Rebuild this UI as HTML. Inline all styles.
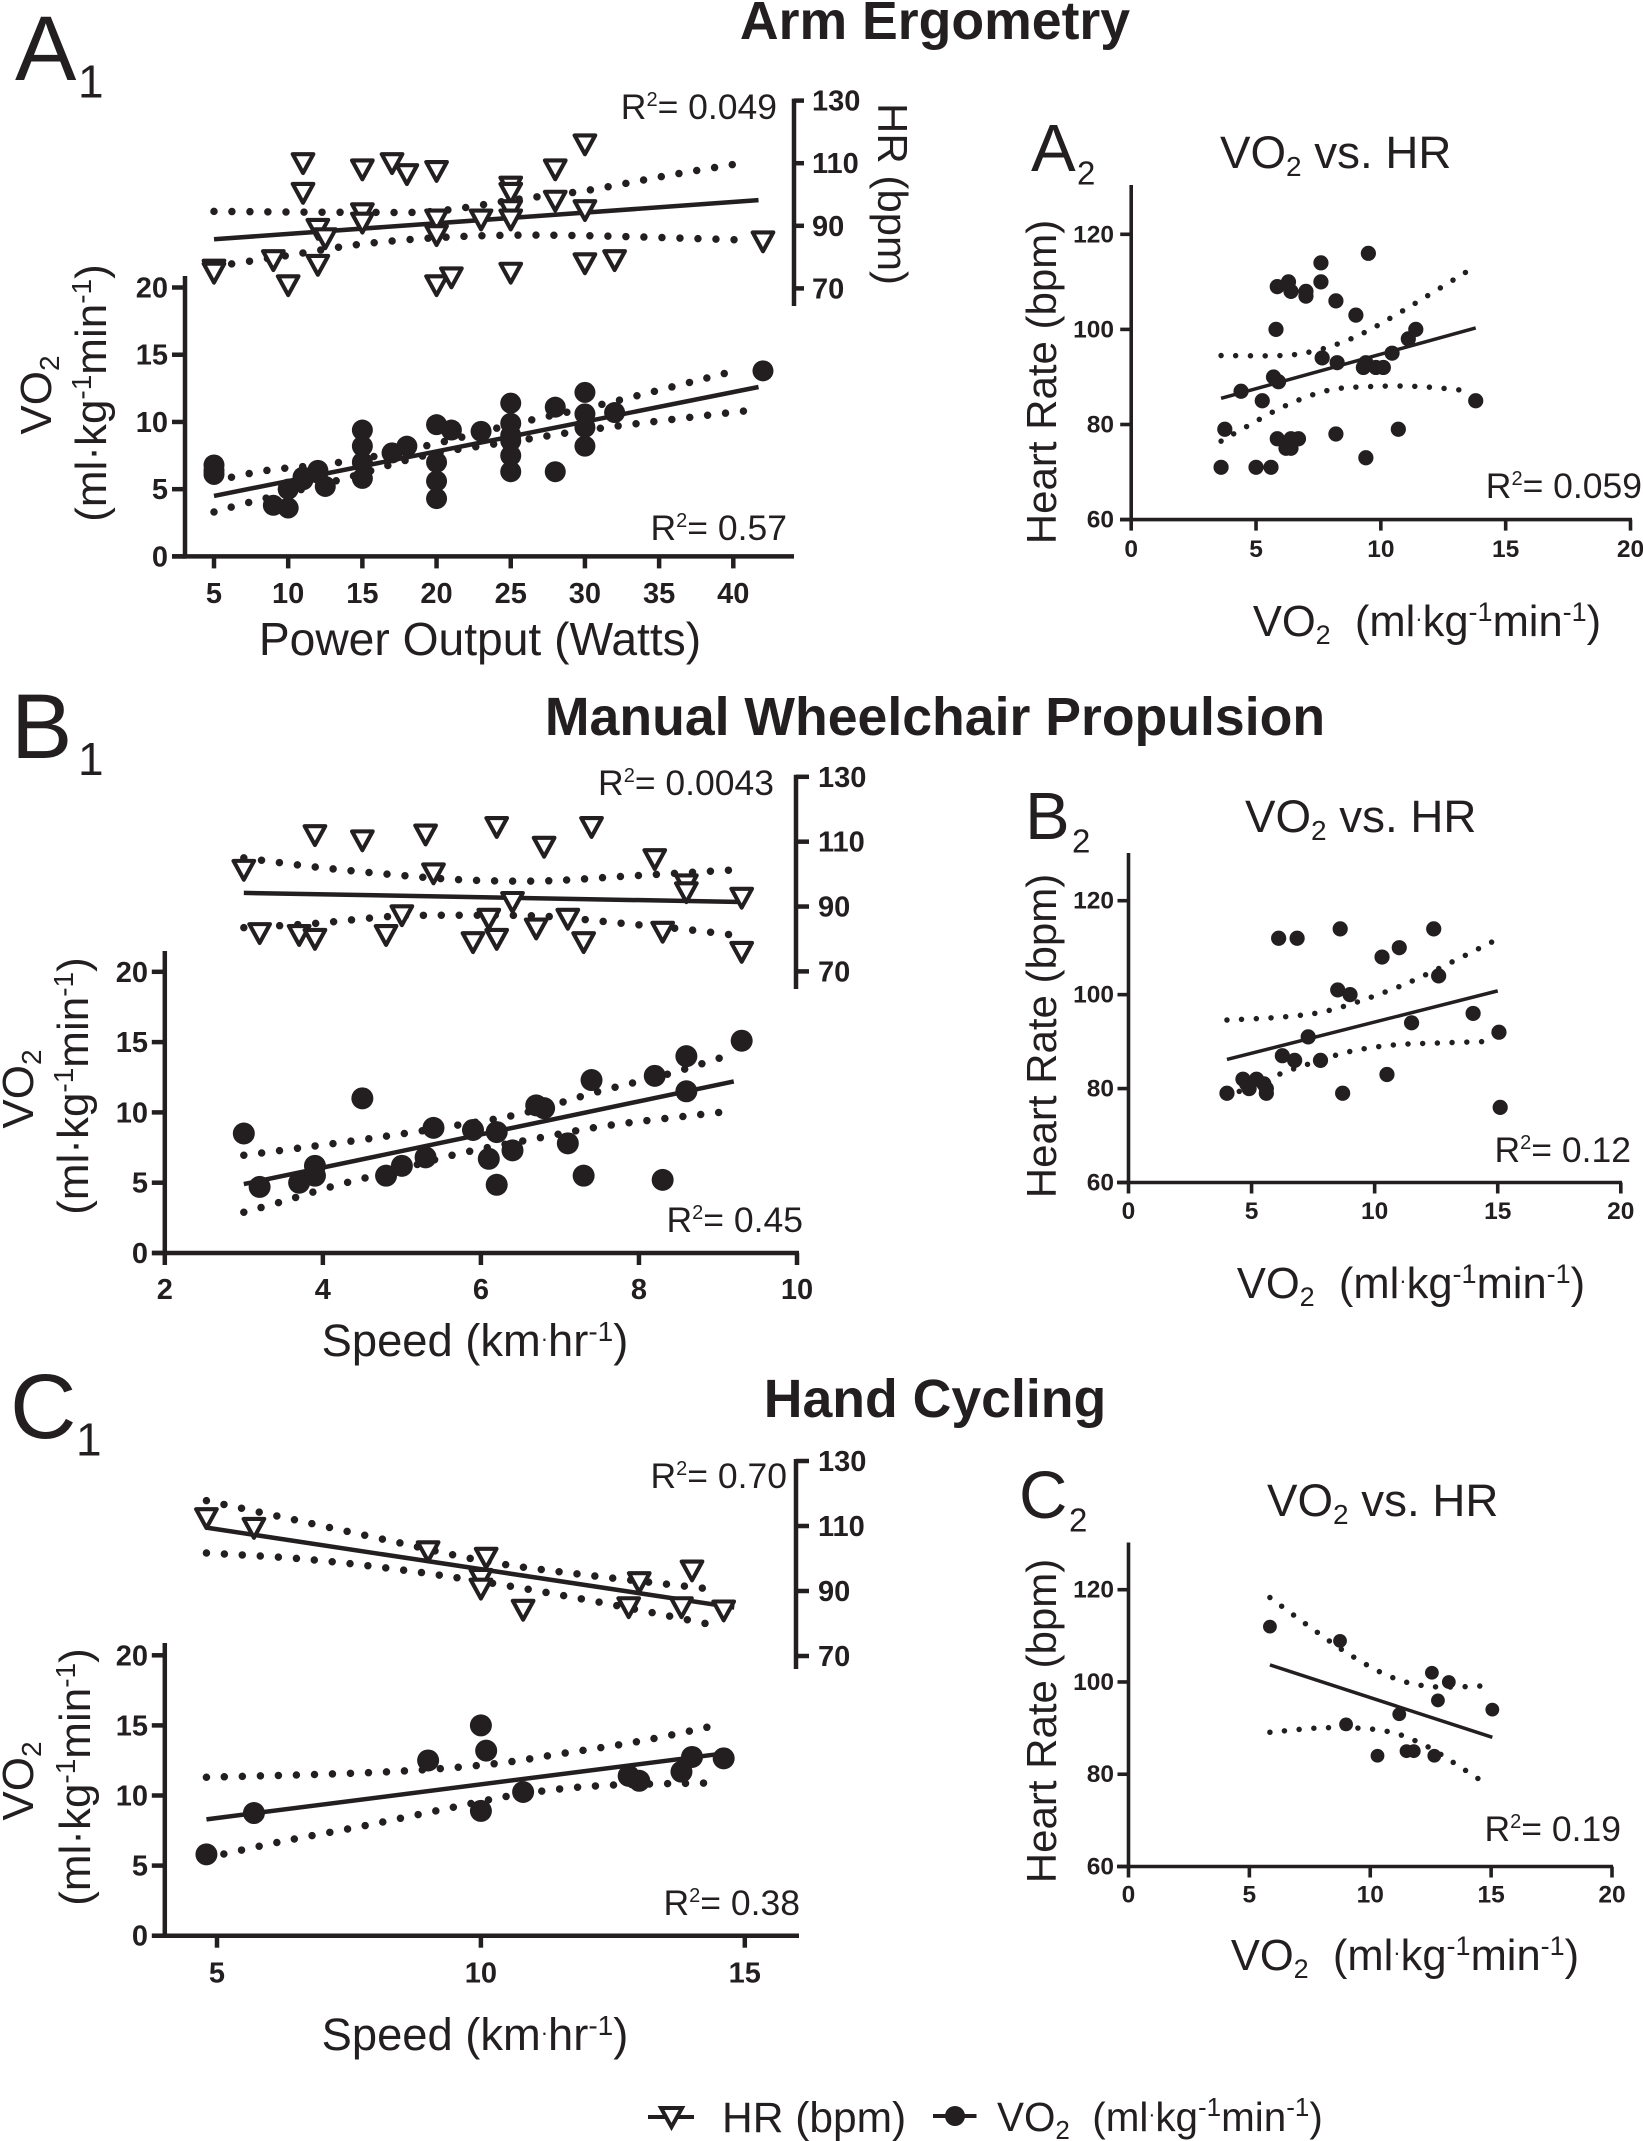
<!DOCTYPE html>
<html lang="en">
<head>
<meta charset="utf-8">
<title>VO2 and heart rate scatter panels</title>
<style>
html,body{margin:0;padding:0;background:#fff;}
svg{display:block;}
text{font-family:"Liberation Sans",Arial,sans-serif;fill:#231f20;}
.heading{font-weight:700;font-size:53.6px;text-anchor:middle;}
.plabel{font-size:92px;}
.plabel2{font-size:67px;}
.psub{font-size:46px;}
.psub2{font-size:33px;}
.ptitle{font-size:45.7px;}
.axt{font-size:44px;text-anchor:middle;}
.axs{font-size:45.3px;text-anchor:middle;}
.axv{font-size:43.5px;text-anchor:middle;}
.axt2{font-size:42px;text-anchor:middle;}
.rs{font-size:35.5px;text-anchor:end;}
.tick1{font-weight:700;font-size:29px;}
.tick2{font-weight:700;font-size:24.5px;}
</style>
</head>
<body>
<svg id="figure" xmlns="http://www.w3.org/2000/svg" width="1643" height="2141" viewBox="0 0 1643 2141">
<rect width="1643" height="2141" fill="#fff"/>

<text class="heading" x="935" y="39">Arm Ergometry</text>
<text class="heading" x="935" y="735">Manual Wheelchair Propulsion</text>
<text class="heading" x="935" y="1417">Hand Cycling</text>

<text class="plabel" x="15" y="80">A</text>
<text class="psub" x="78" y="97.6">1</text>
<text class="plabel" x="11" y="758">B</text>
<text class="psub" x="78" y="775">1</text>
<text class="plabel" x="10" y="1438">C</text>
<text class="psub" x="76" y="1455.6">1</text>
<text class="plabel2" x="1031" y="171">A</text>
<text class="psub2" x="1077" y="184.6">2</text>
<text class="plabel2" x="1025" y="839">B</text>
<text class="psub2" x="1072" y="852.5">2</text>
<text class="plabel2" x="1019" y="1518">C</text>
<text class="psub2" x="1069" y="1531.5">2</text>

<text class="ptitle" x="1220" y="168">VO<tspan dy="8" font-size="28">2</tspan><tspan dy="-8"> vs. HR</tspan></text>
<text class="ptitle" x="1245" y="832">VO<tspan dy="8" font-size="28">2</tspan><tspan dy="-8"> vs. HR</tspan></text>
<text class="ptitle" x="1267" y="1516">VO<tspan dy="8" font-size="28">2</tspan><tspan dy="-8"> vs. HR</tspan></text>

<!-- A1 labels -->
<text class="axt" transform="translate(51,395) rotate(-90)">VO<tspan dy="8" font-size="28">2</tspan></text>
<text class="axt" transform="translate(106,393) rotate(-90)">(ml·kg<tspan dy="-15" font-size="28">-1</tspan><tspan dy="15">min</tspan><tspan dy="-15" font-size="28">-1</tspan><tspan dy="15">)</tspan></text>
<text transform="translate(878,194) rotate(90)" font-size="42" text-anchor="middle">HR (bpm)</text>
<text x="480" y="655" font-size="46.2" text-anchor="middle">Power Output (Watts)</text>
<text class="rs" x="777" y="119">R<tspan dy="-13" font-size="20">2</tspan><tspan dy="13">= 0.049</tspan></text>
<text class="rs" x="787" y="540">R<tspan dy="-13" font-size="20">2</tspan><tspan dy="13">= 0.57</tspan></text>

<!-- B1 labels -->
<text class="axt" transform="translate(33,1089) rotate(-90)">VO<tspan dy="8" font-size="28">2</tspan></text>
<text class="axt" transform="translate(88,1086) rotate(-90)">(ml·kg<tspan dy="-15" font-size="28">-1</tspan><tspan dy="15">min</tspan><tspan dy="-15" font-size="28">-1</tspan><tspan dy="15">)</tspan></text>
<text class="axs" x="475" y="1356">Speed (km<tspan font-size="22" dy="-10">·</tspan><tspan dy="10">hr</tspan><tspan dy="-15" font-size="28">-1</tspan><tspan dy="15">)</tspan></text>
<text class="rs" x="774" y="795">R<tspan dy="-13" font-size="20">2</tspan><tspan dy="13">= 0.0043</tspan></text>
<text class="rs" x="803" y="1232">R<tspan dy="-13" font-size="20">2</tspan><tspan dy="13">= 0.45</tspan></text>

<!-- C1 labels -->
<text class="axt" transform="translate(33,1781) rotate(-90)">VO<tspan dy="8" font-size="28">2</tspan></text>
<text class="axt" transform="translate(90,1777) rotate(-90)">(ml·kg<tspan dy="-15" font-size="28">-1</tspan><tspan dy="15">min</tspan><tspan dy="-15" font-size="28">-1</tspan><tspan dy="15">)</tspan></text>
<text class="axs" x="475" y="2050">Speed (km<tspan font-size="22" dy="-10">·</tspan><tspan dy="10">hr</tspan><tspan dy="-15" font-size="28">-1</tspan><tspan dy="15">)</tspan></text>
<text class="rs" x="787" y="1488">R<tspan dy="-13" font-size="20">2</tspan><tspan dy="13">= 0.70</tspan></text>
<text class="rs" x="800" y="1915">R<tspan dy="-13" font-size="20">2</tspan><tspan dy="13">= 0.38</tspan></text>

<!-- A2/B2/C2 labels -->
<text class="axt2" transform="translate(1056,382) rotate(-90)">Heart Rate (bpm)</text>
<text class="axt2" transform="translate(1056,1036) rotate(-90)">Heart Rate (bpm)</text>
<text class="axt2" transform="translate(1056,1721) rotate(-90)">Heart Rate (bpm)</text>
<text class="axv" x="1427" y="636">VO<tspan dy="8" font-size="27">2</tspan><tspan dy="-8" xml:space="preserve">  (ml</tspan><tspan font-size="22" dy="-10">·</tspan><tspan dy="10">kg</tspan><tspan dy="-15" font-size="27">-1</tspan><tspan dy="15">min</tspan><tspan dy="-15" font-size="27">-1</tspan><tspan dy="15">)</tspan></text>
<text class="axv" x="1411" y="1298">VO<tspan dy="8" font-size="27">2</tspan><tspan dy="-8" xml:space="preserve">  (ml</tspan><tspan font-size="22" dy="-10">·</tspan><tspan dy="10">kg</tspan><tspan dy="-15" font-size="27">-1</tspan><tspan dy="15">min</tspan><tspan dy="-15" font-size="27">-1</tspan><tspan dy="15">)</tspan></text>
<text class="axv" x="1405" y="1970">VO<tspan dy="8" font-size="27">2</tspan><tspan dy="-8" xml:space="preserve">  (ml</tspan><tspan font-size="22" dy="-10">·</tspan><tspan dy="10">kg</tspan><tspan dy="-15" font-size="27">-1</tspan><tspan dy="15">min</tspan><tspan dy="-15" font-size="27">-1</tspan><tspan dy="15">)</tspan></text>
<text class="rs" x="1642" y="498">R<tspan dy="-13" font-size="20">2</tspan><tspan dy="13">= 0.059</tspan></text>
<text class="rs" x="1631" y="1162">R<tspan dy="-13" font-size="20">2</tspan><tspan dy="13">= 0.12</tspan></text>
<text class="rs" x="1621" y="1841">R<tspan dy="-13" font-size="20">2</tspan><tspan dy="13">= 0.19</tspan></text>

<!-- Legend -->
<g>
  <g>
    <line x1="648" y1="2117" x2="694" y2="2117" stroke="#231f20" stroke-width="4"/>
    <path d="M661,2108 L682,2108 L671.5,2127 Z" fill="#fff" stroke="#231f20" stroke-width="4"/>
    <text x="722" y="2132" font-size="42.5">HR (bpm)</text>
  </g>
  <g>
    <line x1="933" y1="2116" x2="976.5" y2="2116" stroke="#231f20" stroke-width="4"/>
    <circle cx="955" cy="2116" r="10" fill="#231f20"/>
    <text x="997" y="2131" font-size="40.4">VO<tspan dy="8" font-size="26">2</tspan><tspan dy="-8" xml:space="preserve">  (ml</tspan><tspan font-size="21" dy="-10">·</tspan><tspan dy="10">kg</tspan><tspan dy="-15" font-size="26">-1</tspan><tspan dy="15">min</tspan><tspan dy="-15" font-size="26">-1</tspan><tspan dy="15">)</tspan></text>
  </g>
</g>
<g id="plots"></g>
</svg>

<script>
/* ---------- Tick labels ---------- */
const hrTicks = [70, 90, 110, 130];
const vo2Ticks = [0, 5, 10, 15, 20];
const heartRateTicks = [60, 80, 100, 120];
const vo2XTicks = [0, 5, 10, 15, 20];
const a1XTicks = [5, 10, 15, 20, 25, 30, 35, 40];
const b1XTicks = [2, 4, 6, 8, 10];
const c1XTicks = [5, 10, 15];

/* ---------- A1: arm ergometry ---------- */
const a1Vo2Power = [5,5,5,9,10,10,11,11,12,12,12.5,15,15,15,15,17,18,20,20,20,20,21,23,25,25,25,25,25,25,28,28,30,30,30,30,32,42];
const a1Vo2 = [6.8,6.4,6.1,3.8,3.6,5.0,5.7,5.9,6.4,6.2,5.2,9.4,8.2,7.0,5.8,7.7,8.2,9.8,7.0,5.6,4.3,9.4,9.3,11.4,9.9,9.0,8.6,7.5,6.3,11.1,6.3,12.2,10.6,9.6,8.2,10.7,13.8];
const a1HrPower = [5,5,9,10,11,11,12,12,12.5,15,15,15,17,18,20,20,20,20,21,23,25,25,25,25,25,28,28,30,30,30,32,42];
const a1Hr = [76,75,79,71,110,100.5,77.5,89,86,108,94,91,110,106.5,107.5,92,87,71,73.5,92,102.5,100.5,95,92,75,108,98,116,95,78,79,85];
const a1HrFitX = [5, 41.7];
const a1HrFitY = [85.7, 98.2];
const a1HrUpperX = [5, 15, 20, 25.5, 30, 35.5, 40.5];
const a1HrUpperY = [94.6, 94.3, 94.7, 98.5, 101.2, 106, 110];
const a1HrLowerX = [5, 9.8, 14.7, 20, 25.4, 31.5, 40.5];
const a1HrLowerY = [77, 80.4, 84, 86.2, 87, 86.7, 85.5];
const a1Vo2FitX = [5, 41.7];
const a1Vo2FitY = [4.5, 12.6];
const a1Vo2UpperX = [5, 8.6, 13.5, 19.2, 25.4, 31.5, 40.1];
const a1Vo2UpperY = [5.6, 6.4, 7.0, 8.2, 9.9, 11.4, 13.8];
const a1Vo2LowerX = [5, 7.3, 13.5, 19.2, 25.4, 31.5, 41.4];
const a1Vo2LowerY = [3.3, 4.0, 5.7, 7.5, 8.6, 9.6, 10.9];

/* ---------- A2 ---------- */
const a2Vo2 = [3.6,3.75,4.4,5,5.6,5.25,5.7,5.9,5.8,5.85,6.3,6.4,5.85,6.2,6.4,6.4,6.7,7,7,7.6,7.6,8.2,7.65,8.25,8.2,9,9.5,9.3,9.4,9.4,9.8,10.1,10.45,10.7,11.1,11.4,13.8];
const a2Hr = [71,79,87,71,71,85,90,89,100,109,110,108,77,75,77,75,77,108,107,114,110,106,94,93,78,103,116,92,93,73,92,92,95,79,98,100,85];
const a2FitX = [3.6, 13.8];
const a2FitY = [85.5, 100.3];
const a2UpperX = [3.6, 6, 7.2, 8.3, 9.4, 11, 13.55];
const a2UpperY = [94.5, 94.5, 95.3, 97, 99.5, 104.3, 112.5];
const a2LowerX = [3.6, 4.6, 6.2, 7.9, 9.65, 11.5, 13.3];
const a2LowerY = [76.5, 79.5, 84, 87.2, 88, 88, 87.2];

/* ---------- B1: manual wheelchair ---------- */
const b1Vo2Speed = [3,3.2,3.7,3.9,3.9,4.5,4.8,5,5.3,5.4,5.9,6.1,6.2,6.2,6.4,6.7,6.8,7.1,7.3,7.4,8.2,8.3,8.6,8.6,9.3];
const b1Vo2 = [8.5,4.7,5,6.2,5.5,11,5.5,6.2,6.8,8.9,8.75,6.7,4.85,8.6,7.3,10.5,10.3,7.8,5.5,12.3,12.6,5.2,14,11.5,15.1];
const b1HrSpeed = [3,3.2,3.7,3.9,3.9,4.5,4.8,5,5.3,5.4,5.9,6.1,6.2,6.2,6.4,6.7,6.8,7.1,7.3,7.4,8.2,8.3,8.6,8.6,9.3,9.3];
const b1Hr = [101.3,81.8,81.2,112,80,110.4,81.2,87.3,112.2,100.2,79,86.2,114.5,80,91.4,83.2,108.4,86.2,79,114.5,104.6,82.2,96.8,94.4,92.7,76];
const b1HrFitX = [3, 9.3];
const b1HrFitY = [94.2, 91.4];
const b1HrUpperX = [3, 3.9, 4.9, 5.8, 6.8, 7.8, 9.2];
const b1HrUpperY = [105, 102.2, 99.8, 98.2, 97.9, 99.3, 101.3];
const b1HrLowerX = [3, 3.9, 4.9, 5.8, 6.8, 7.8, 8.5, 9.2];
const b1HrLowerY = [83.5, 84.8, 87, 87.3, 87, 84.8, 83.2, 81.2];
const b1Vo2FitX = [3, 9.2];
const b1Vo2FitY = [4.9, 12.2];
const b1Vo2UpperX = [3, 3.75, 4.67, 5.6, 6.5, 7.5, 8.35, 9.1];
const b1Vo2UpperY = [6.95, 7.5, 8.2, 9, 9.9, 11.5, 12.7, 14];
const b1Vo2LowerX = [3, 3.45, 4.13, 4.9, 5.75, 6.75, 7.65, 9.1];
const b1Vo2LowerY = [2.9, 3.6, 4.75, 5.85, 7.1, 8.2, 9.1, 10.05];

/* ---------- B2 ---------- */
const b2Vo2 = [4,4.65,4.9,4.8,5.2,5.5,5.6,5.6,6.1,6.85,6.25,6.75,7.3,7.8,8.5,8.6,8.7,9,10.3,10.5,11,11.5,12.4,12.6,14,15.05,15.1];
const b2Hr = [79,82,80,81,82,81,80,79,112,112,87,86,91,86,101,114,79,100,108,83,110,94,114,104,96,92,76];
const b2FitX = [4, 15];
const b2FitY = [86.2, 100.8];
const b2UpperX = [4, 6.4, 8.2, 10.4, 12.1, 14.8];
const b2UpperY = [94.6, 95.3, 96.7, 100.5, 104.3, 111.3];
const b2LowerX = [4.5, 6.2, 7.3, 9, 10.8, 12.6, 14.4];
const b2LowerY = [79.4, 83.2, 85.2, 87.9, 89.3, 89.7, 90];

/* ---------- C1: hand cycling ---------- */
const c1Vo2Speed = [4.8,5.7,9,10,10.1,10,10.8,12.8,13,13.8,14,14.6];
const c1Vo2 = [5.8,8.75,12.5,15,13.2,8.9,10.25,11.4,11.05,11.7,12.75,12.65];
const c1HrSpeed = [4.8,5.7,9,10.1,10,10,10.8,12.8,13,13.8,14,14.6];
const c1Hr = [112.4,109.4,102.2,100.2,93.7,90.7,84.2,85,92.7,85,96.3,84];
const c1HrFitX = [4.8, 14.8];
const c1HrFitY = [109.5, 84.9];
const c1HrUpperX = [4.8, 6.5, 8.35, 10.1, 11.8, 14.3];
const c1HrUpperY = [117.8, 111.8, 105.2, 99.1, 95.3, 90.7];
const c1HrLowerX = [4.8, 6.6, 8.35, 10.1, 11.9, 13.35, 14.4];
const c1HrLowerY = [101.7, 99.9, 96.8, 92.7, 87.6, 83, 79.5];
const c1Vo2FitX = [4.8, 14.6];
const c1Vo2FitY = [8.3, 13];
const c1Vo2UpperX = [4.8, 8, 10.1, 11.55, 13.05, 14.45];
const c1Vo2UpperY = [11.3, 11.65, 12.2, 13, 13.9, 15];
const c1Vo2LowerX = [4.8, 6.2, 7.8, 9.4, 10.75, 12.25, 14.4];
const c1Vo2LowerY = [5.55, 6.7, 7.85, 9.1, 10.1, 10.7, 10.9];

/* ---------- C2 ---------- */
const c2Vo2 = [5.85,8.75,9,10.3,11.2,11.5,11.8,12.55,12.65,12.8,13.25,15.05];
const c2Hr = [112,108.9,90.8,84,93,85,85,102,84,96,100,94];
const c2FitX = [5.85, 15.05];
const c2FitY = [103.7, 88];
const c2UpperX = [5.85, 7.8, 9.25, 10.9, 12.55, 14.95];
const c2UpperY = [118.3, 110.8, 105.6, 101, 99, 99.2];
const c2LowerX = [5.85, 8.25, 10.6, 12.25, 13.8, 14.85];
const c2LowerY = [89.1, 90.1, 89.4, 86.3, 81.3, 77.7];

/* ---------- Drawing ---------- */
const INK = '#231f20';
const NS = 'http://www.w3.org/2000/svg';
const root = document.getElementById('plots');

function linear(d0, d1, r0, r1) {
  return function (v) { return r0 + (v - d0) * (r1 - r0) / (d1 - d0); };
}
function make(parent, tag, attrs) {
  const el = document.createElementNS(NS, tag);
  for (const k in attrs) el.setAttribute(k, attrs[k]);
  parent.appendChild(el);
  return el;
}
function group(name) {
  const g = make(root, 'g', {});
  
  
  return g;
}
function drawLeftAxis(name, scale, ticks, x, top, tickLen, sw, labelX, cls, dy) {
  const g = group(name);
  make(g, 'line', {x1: x, x2: x, y1: top, y2: scale(ticks[0]) + sw / 2, stroke: INK, 'stroke-width': sw});
  ticks.forEach(function (t) {
    make(g, 'line', {x1: x - tickLen, x2: x, y1: scale(t), y2: scale(t), stroke: INK, 'stroke-width': sw});
    const label = make(g, 'text', {x: labelX, y: scale(t) + dy, 'text-anchor': 'end', 'class': cls});
    label.textContent = t;
    
    
  });
}
function drawRightAxis(name, scale, ticks, x, bottom, tickLen, labelX) {
  const g = group(name);
  make(g, 'line', {x1: x, x2: x, y1: scale(ticks[ticks.length - 1]) - 2, y2: bottom, stroke: INK, 'stroke-width': 4.5});
  ticks.forEach(function (t) {
    make(g, 'line', {x1: x, x2: x + tickLen, y1: scale(t), y2: scale(t), stroke: INK, 'stroke-width': 4.5});
    const label = make(g, 'text', {x: labelX, y: scale(t) + 10, 'class': 'tick1'});
    label.textContent = t;
    
    
  });
}
function drawBottomAxis(name, scale, ticks, y, x0, x1, tickLen, sw, labelY, cls) {
  const g = group(name);
  make(g, 'line', {x1: x0, x2: x1, y1: y, y2: y, stroke: INK, 'stroke-width': sw});
  ticks.forEach(function (t) {
    make(g, 'line', {x1: scale(t), x2: scale(t), y1: y, y2: y + tickLen, stroke: INK, 'stroke-width': sw});
    const label = make(g, 'text', {x: scale(t), y: labelY, 'text-anchor': 'middle', 'class': cls});
    label.textContent = t;
    
    
  });
}
function curvePath(xs, ys, sx, sy) {
  const p = xs.map(function (v, i) { return [sx(v), sy(ys[i])]; });
  let d = 'M' + p[0][0] + ',' + p[0][1];
  for (let i = 0; i < p.length - 1; i++) {
    const a = p[Math.max(i - 1, 0)], b = p[i], c = p[i + 1], e = p[Math.min(i + 2, p.length - 1)];
    d += ' C' + (b[0] + (c[0] - a[0]) / 6) + ',' + (b[1] + (c[1] - a[1]) / 6) + ' ' +
         (c[0] - (e[0] - b[0]) / 6) + ',' + (c[1] - (e[1] - b[1]) / 6) + ' ' + c[0] + ',' + c[1];
  }
  return d;
}
function drawBand(g, xs, ys, sx, sy, dot, gap, name) {
  const el = make(g, 'path', {d: curvePath(xs, ys, sx, sy), fill: 'none', stroke: INK, 'stroke-width': dot,
    'stroke-linecap': 'round', 'stroke-dasharray': '0 ' + gap});
  
  
}
function drawFit(g, xs, ys, sx, sy, sw, name) {
  const el = make(g, 'line', {x1: sx(xs[0]), y1: sy(ys[0]), x2: sx(xs[1]), y2: sy(ys[1]), stroke: INK, 'stroke-width': sw});
  
  
}
function drawDots(g, xs, ys, sx, sy, r) {
  xs.forEach(function (v, i) {
    const el = make(g, 'circle', {cx: sx(v), cy: sy(ys[i]), r: r, fill: INK});
    
    
  });
}
function drawTriangles(g, xs, ys, sx, sy) {
  xs.forEach(function (v, i) {
    const cx = sx(v), cy = sy(ys[i]);
    const el = make(g, 'path', {
      d: 'M' + (cx - 10.3) + ',' + (cy - 9) + ' L' + (cx + 10.3) + ',' + (cy - 9) + ' L' + cx + ',' + (cy + 9.8) + ' Z',
      fill: '#fff', stroke: INK, 'stroke-width': 4.1, 'stroke-linejoin': 'round'});
    
    
  });
}

/* Panel A1 */
const a1X = linear(5, 40, 214, 733.3);
const a1YV = linear(0, 20, 556.4, 287.5);
const a1YH = linear(70, 130, 288.4, 100.6);
drawRightAxis('a1-hr-axis', a1YH, hrTicks, 794, 306, 10, 812);
drawLeftAxis('a1-vo2-axis', a1YV, vo2Ticks, 185, 276, 13, 4.5, 168, 'tick1', 10);
drawBottomAxis('a1-x-axis', a1X, a1XTicks, 556.4, 172, 794, 12, 4.5, 603, 'tick1');
const a1HG = group('a1-hr-series');
drawBand(a1HG, a1HrUpperX, a1HrUpperY, a1X, a1YH, 7.5, 18, 'a1-hr-upper-ci');
drawBand(a1HG, a1HrLowerX, a1HrLowerY, a1X, a1YH, 7.5, 18, 'a1-hr-lower-ci');
drawFit(a1HG, a1HrFitX, a1HrFitY, a1X, a1YH, 4.5, 'a1-hr-fit-line');
drawTriangles(a1HG, a1HrPower, a1Hr, a1X, a1YH);
const a1VG = group('a1-vo2-series');
drawBand(a1VG, a1Vo2UpperX, a1Vo2UpperY, a1X, a1YV, 7.5, 18, 'a1-vo2-upper-ci');
drawBand(a1VG, a1Vo2LowerX, a1Vo2LowerY, a1X, a1YV, 7.5, 18, 'a1-vo2-lower-ci');
drawFit(a1VG, a1Vo2FitX, a1Vo2FitY, a1X, a1YV, 4.5, 'a1-vo2-fit-line');
drawDots(a1VG, a1Vo2Power, a1Vo2, a1X, a1YV, 10.5);

/* Panel A2 */
const a2X = linear(0, 20, 1131.2, 1630.5);
const a2Y = linear(60, 120, 519.6, 234.3);
drawLeftAxis('a2-y-axis', a2Y, heartRateTicks, 1131.2, 185, 11, 3.6, 1114, 'tick2', 8);
drawBottomAxis('a2-x-axis', a2X, vo2XTicks, 519.6, 1120, 1632, 11, 3.6, 557, 'tick2');
const a2G = group('a2-series');
drawBand(a2G, a2UpperX, a2UpperY, a2X, a2Y, 5.5, 14.7, 'a2-upper-ci');
drawBand(a2G, a2LowerX, a2LowerY, a2X, a2Y, 5.5, 14.7, 'a2-lower-ci');
drawFit(a2G, a2FitX, a2FitY, a2X, a2Y, 3.5, 'a2-fit-line');
drawDots(a2G, a2Vo2, a2Hr, a2X, a2Y, 7.6);

/* Panel B1 */
const b1X = linear(2, 10, 164.8, 797);
const b1YV = linear(0, 20, 1253, 971.8);
const b1YH = linear(70, 130, 971.4, 776.8);
drawRightAxis('b1-hr-axis', b1YH, hrTicks, 796, 989, 13, 818);
drawLeftAxis('b1-vo2-axis', b1YV, vo2Ticks, 164.8, 951, 13, 4.5, 148, 'tick1', 10);
drawBottomAxis('b1-x-axis', b1X, b1XTicks, 1253, 152, 799, 12, 4.5, 1299, 'tick1');
const b1HG = group('b1-hr-series');
drawBand(b1HG, b1HrUpperX, b1HrUpperY, b1X, b1YH, 7.5, 18, 'b1-hr-upper-ci');
drawBand(b1HG, b1HrLowerX, b1HrLowerY, b1X, b1YH, 7.5, 18, 'b1-hr-lower-ci');
drawFit(b1HG, b1HrFitX, b1HrFitY, b1X, b1YH, 4.5, 'b1-hr-fit-line');
drawTriangles(b1HG, b1HrSpeed, b1Hr, b1X, b1YH);
const b1VG = group('b1-vo2-series');
drawBand(b1VG, b1Vo2UpperX, b1Vo2UpperY, b1X, b1YV, 7.5, 18, 'b1-vo2-upper-ci');
drawBand(b1VG, b1Vo2LowerX, b1Vo2LowerY, b1X, b1YV, 7.5, 18, 'b1-vo2-lower-ci');
drawFit(b1VG, b1Vo2FitX, b1Vo2FitY, b1X, b1YV, 4.5, 'b1-vo2-fit-line');
drawDots(b1VG, b1Vo2Speed, b1Vo2, b1X, b1YV, 11);

/* Panel B2 */
const b2X = linear(0, 20, 1128.5, 1620.8);
const b2Y = linear(60, 120, 1182.5, 900.7);
drawLeftAxis('b2-y-axis', b2Y, heartRateTicks, 1128.5, 853, 11, 3.6, 1114, 'tick2', 8);
drawBottomAxis('b2-x-axis', b2X, vo2XTicks, 1182.5, 1117, 1622, 11, 3.6, 1219, 'tick2');
const b2G = group('b2-series');
drawBand(b2G, b2UpperX, b2UpperY, b2X, b2Y, 5.5, 14.7, 'b2-upper-ci');
drawBand(b2G, b2LowerX, b2LowerY, b2X, b2Y, 5.5, 14.7, 'b2-lower-ci');
drawFit(b2G, b2FitX, b2FitY, b2X, b2Y, 3.5, 'b2-fit-line');
drawDots(b2G, b2Vo2, b2Hr, b2X, b2Y, 7.6);

/* Panel C1 */
const c1X = linear(5, 15, 217, 744.8);
const c1YV = linear(0, 20, 1935.7, 1655.3);
const c1YH = linear(70, 130, 1656, 1461);
drawRightAxis('c1-hr-axis', c1YH, hrTicks, 796, 1669, 13, 818);
drawLeftAxis('c1-vo2-axis', c1YV, vo2Ticks, 164.8, 1643, 13, 4.5, 148, 'tick1', 10);
drawBottomAxis('c1-x-axis', c1X, c1XTicks, 1935.7, 152, 799, 12, 4.5, 1982.5, 'tick1');
const c1HG = group('c1-hr-series');
drawBand(c1HG, c1HrUpperX, c1HrUpperY, c1X, c1YH, 7.5, 18, 'c1-hr-upper-ci');
drawBand(c1HG, c1HrLowerX, c1HrLowerY, c1X, c1YH, 7.5, 18, 'c1-hr-lower-ci');
drawFit(c1HG, c1HrFitX, c1HrFitY, c1X, c1YH, 4.5, 'c1-hr-fit-line');
drawTriangles(c1HG, c1HrSpeed, c1Hr, c1X, c1YH);
const c1VG = group('c1-vo2-series');
drawBand(c1VG, c1Vo2UpperX, c1Vo2UpperY, c1X, c1YV, 7.5, 18, 'c1-vo2-upper-ci');
drawBand(c1VG, c1Vo2LowerX, c1Vo2LowerY, c1X, c1YV, 7.5, 18, 'c1-vo2-lower-ci');
drawFit(c1VG, c1Vo2FitX, c1Vo2FitY, c1X, c1YV, 4.5, 'c1-vo2-fit-line');
drawDots(c1VG, c1Vo2Speed, c1Vo2, c1X, c1YV, 11);

/* Panel C2 */
const c2X = linear(0, 20, 1128.5, 1612);
const c2Y = linear(60, 120, 1866.5, 1589.7);
drawLeftAxis('c2-y-axis', c2Y, heartRateTicks, 1128.5, 1542.5, 11, 3.6, 1114, 'tick2', 8);
drawBottomAxis('c2-x-axis', c2X, vo2XTicks, 1866.5, 1117, 1613, 11, 3.6, 1902.6, 'tick2');
const c2G = group('c2-series');
drawBand(c2G, c2UpperX, c2UpperY, c2X, c2Y, 5.5, 14.7, 'c2-upper-ci');
drawBand(c2G, c2LowerX, c2LowerY, c2X, c2Y, 5.5, 14.7, 'c2-lower-ci');
drawFit(c2G, c2FitX, c2FitY, c2X, c2Y, 3.5, 'c2-fit-line');
drawDots(c2G, c2Vo2, c2Hr, c2X, c2Y, 6.9);
</script>
</body>
</html>
